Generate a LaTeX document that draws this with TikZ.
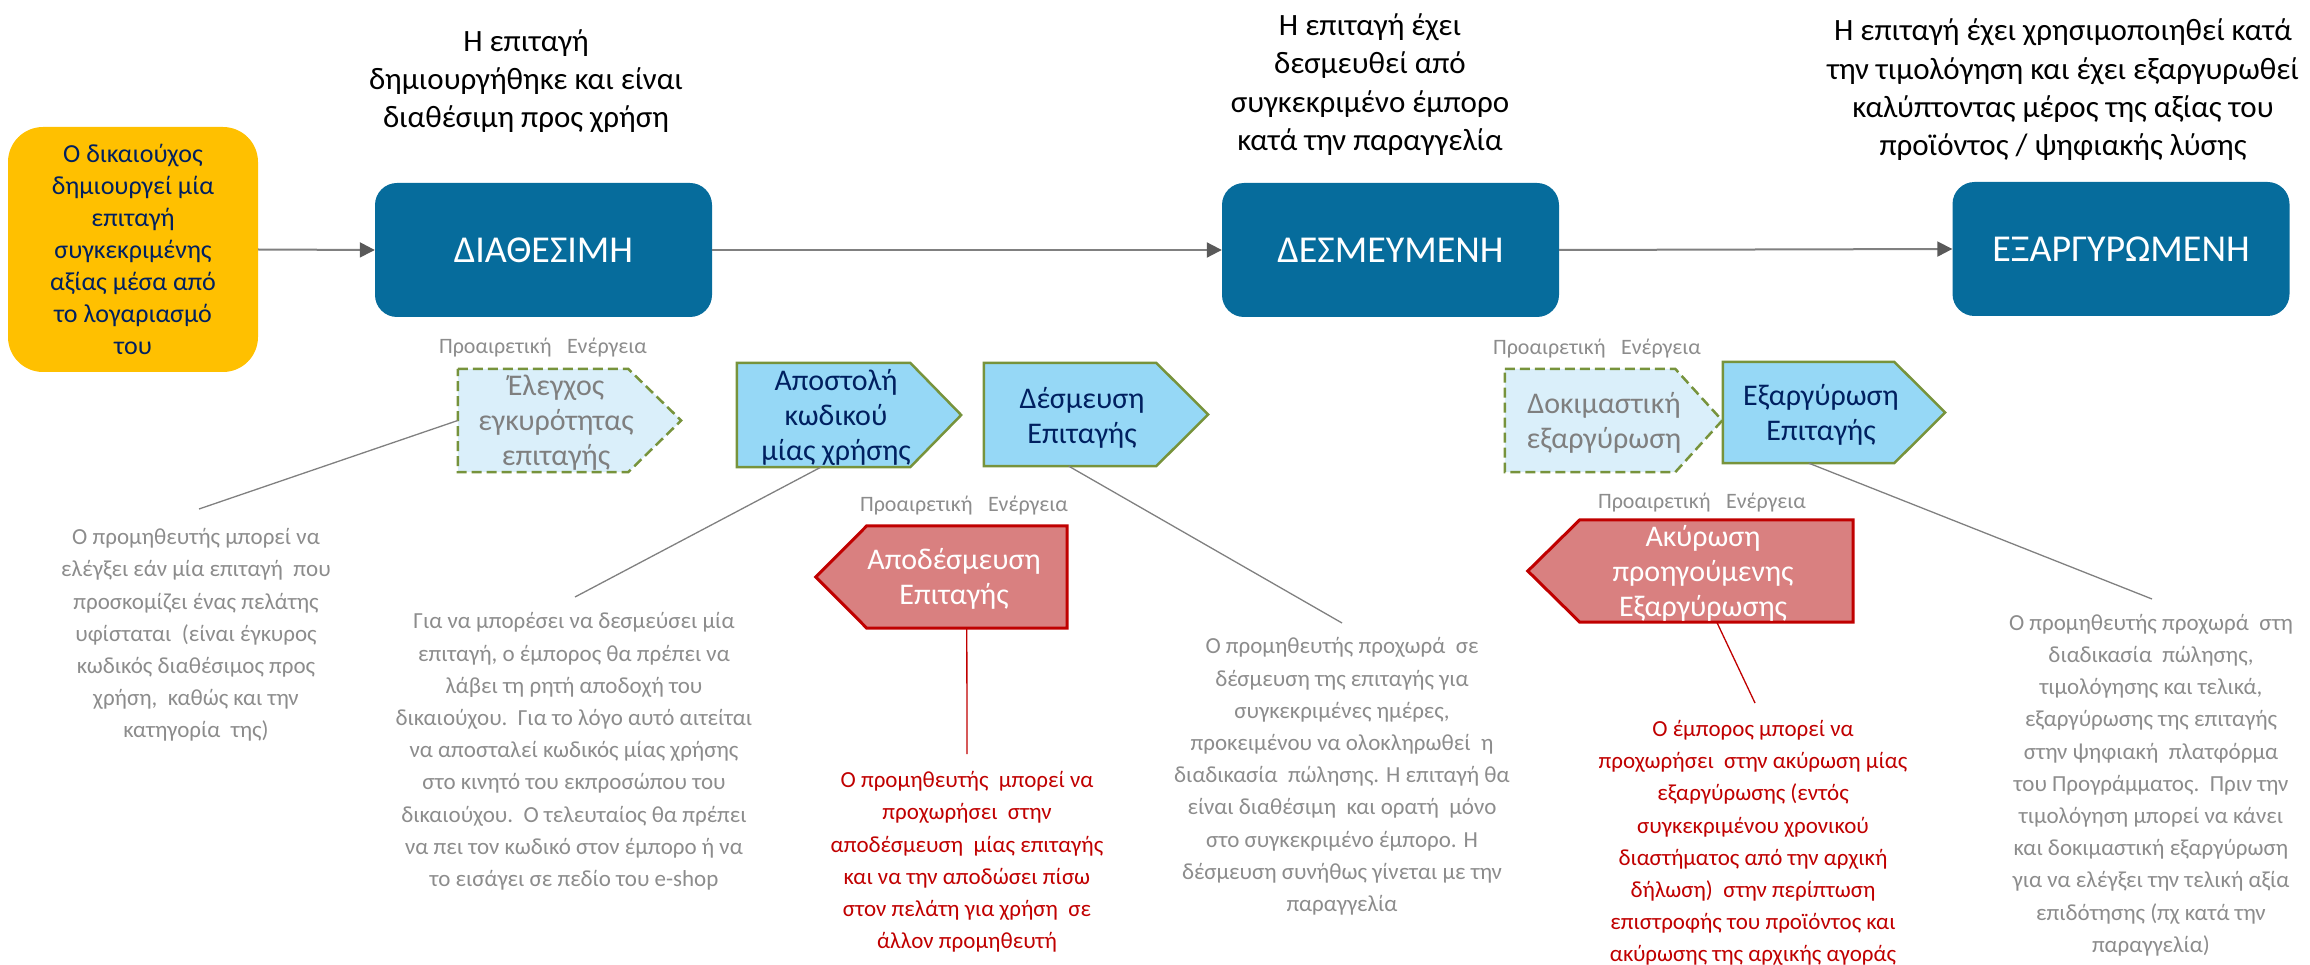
\documentclass[tikz,border=0pt]{standalone}
\usepackage{fontspec}
\setmainfont{Carlito}
\usetikzlibrary{arrows.meta,calc}
\definecolor{mainblue}{RGB}{6,108,156}
\definecolor{yell}{RGB}{255,192,0}
\definecolor{navy}{RGB}{0,32,96}
\definecolor{lightfill}{RGB}{218,239,250}
\definecolor{skyfill}{RGB}{150,216,246}
\definecolor{olive}{RGB}{119,147,60}
\definecolor{redfill}{RGB}{217,128,128}
\definecolor{darkred}{RGB}{192,0,0}
\definecolor{txtgray}{RGB}{140,140,140}
\definecolor{pgray}{RGB}{127,127,127}
\definecolor{arrgray}{RGB}{128,128,128}
\definecolor{headgray}{RGB}{89,89,89}
\begin{document}
\begin{tikzpicture}[x=1pt,y=-1pt,
  state/.style={fill=mainblue, rounded corners=22pt, minimum width=337pt, minimum height=134pt, text=white, font=\fontsize{38}{45}\selectfont, inner sep=0pt},
  startbox/.style={fill=yell, rounded corners=35pt, minimum width=250pt, minimum height=245pt, text=navy, align=center, font=\fontsize{26}{32}\selectfont, inner sep=0pt},
  head/.style={align=center, font=\fontsize{31}{38.3}\selectfont, text=black, inner sep=0pt},
  opt/.style={text=txtgray, font=\fontsize{22}{26}\selectfont, inner sep=0pt},
  desc/.style={align=center, text=txtgray, font=\fontsize{23}{32.2}\selectfont, inner sep=0pt},
  rdesc/.style={desc, text=darkred},
  flow/.style={draw=arrgray, line width=2pt, -{Triangle[length=15pt,width=15pt,color=headgray]}},
  lead/.style={draw=arrgray, line width=1.3pt},
  rlead/.style={draw=darkred, line width=1.3pt},
  pbox/.style={inner sep=0pt, draw=none},
  optshape/.style={fill=lightfill, draw=olive, line width=2.5pt, dash pattern=on 10pt off 5pt},
  actshape/.style={fill=skyfill, draw=olive, line width=2.5pt},
  undoshape/.style={fill=redfill, draw=darkred, line width=3pt},
  ptext/.style={align=center, font=\fontsize{30}{35}\selectfont, inner sep=0pt}
]
\useasboundingbox (0,0) rectangle (2310,965);

% headers
\node[head] (h1) at (526,81) {Η επιταγή\\δημιουργήθηκε και είναι\\διαθέσιμη προς χρήση};
\node[head] (h2) at (1370,84.5) {Η επιταγή έχει\\δεσμευθεί από\\συγκεκριμένο έμπορο\\κατά την παραγγελία};
\node[head] (h3) at (2063,90) {Η επιταγή έχει χρησιμοποιηθεί κατά\\την τιμολόγηση και έχει εξαργυρωθεί\\καλύπτοντας μέρος της αξίας του\\προϊόντος / ψηφιακής λύσης};

% main states
\node[startbox] (start) at (133,249.5) {Ο δικαιούχος\\δημιουργεί μία\\επιταγή\\συγκεκριμένης\\αξίας μέσα από\\το λογαριασμό\\του};
\node[state] (diath) at (543.5,250) {ΔΙΑΘΕΣΙΜΗ};
\node[state] (desm) at (1390.5,250) {ΔΕΣΜΕΥΜΕΝΗ};
\node[state] (exarg) at (2121,249) {ΕΞΑΡΓΥΡΩΜΕΝΗ};

\draw[flow] (start.east) -- (diath.west);
\draw[flow] (diath.east) -- (desm.west);
\draw[flow] (desm.east) -- (exarg.west);

% optional labels
\node[opt] (o1) at (543,348) {Προαιρετική\hspace{0.7em}Ενέργεια};
\node[opt] (o2) at (964,506) {Προαιρετική\hspace{0.7em}Ενέργεια};
\node[opt] (o3) at (1597,349) {Προαιρετική\hspace{0.7em}Ενέργεια};
\node[opt] (o4) at (1702,503) {Προαιρετική\hspace{0.7em}Ενέργεια};

% pentagon frames
\node[pbox, minimum width=223pt, minimum height=103pt] (elg) at (569.5,420.5) {};
\node[pbox, minimum width=224pt, minimum height=104pt] (apo) at (849,415) {};
\node[pbox, minimum width=224pt, minimum height=103pt] (des) at (1096,414.5) {};
\node[pbox, minimum width=217pt, minimum height=103pt] (dok) at (1613.5,420.5) {};
\node[pbox, minimum width=222pt, minimum height=101pt] (exa) at (1834,412.5) {};
\node[pbox, minimum width=251pt, minimum height=102pt] (apd) at (941.5,577) {};
\node[pbox, minimum width=325pt, minimum height=102pt] (aky) at (1690.5,571) {};

\draw[optshape] (elg.north west) -- ($(elg.north east)+(-53,0)$) -- (elg.east) -- ($(elg.south east)+(-53,0)$) -- (elg.south west) -- cycle;
\draw[actshape] (apo.north west) -- ($(apo.north east)+(-51,0)$) -- (apo.east) -- ($(apo.south east)+(-51,0)$) -- (apo.south west) -- cycle;
\draw[actshape] (des.north west) -- ($(des.north east)+(-52,0)$) -- (des.east) -- ($(des.south east)+(-52,0)$) -- (des.south west) -- cycle;
\draw[optshape] (dok.north west) -- ($(dok.north east)+(-47,0)$) -- (dok.east) -- ($(dok.south east)+(-47,0)$) -- (dok.south west) -- cycle;
\draw[actshape] (exa.north west) -- ($(exa.north east)+(-51,0)$) -- (exa.east) -- ($(exa.south east)+(-51,0)$) -- (exa.south west) -- cycle;
\draw[undoshape] (apd.west) -- ($(apd.north west)+(51,0)$) -- (apd.north east) -- (apd.south east) -- ($(apd.south west)+(51,0)$) -- cycle;
\draw[undoshape] (aky.west) -- ($(aky.north west)+(52,0)$) -- (aky.north east) -- (aky.south east) -- ($(aky.south west)+(52,0)$) -- cycle;

% pentagon texts
\node[ptext, text=pgray] (elgT) at (556,423) {Έλεγχος\\εγκυρότητας\\επιταγής};
\node[ptext, text=navy] (apoT) at (836,417.5) {Αποστολή\\κωδικού\\μίας χρήσης};
\node[ptext, text=navy] (desT) at (1082,417.5) {Δέσμευση\\Επιταγής};
\node[ptext, text=pgray] (dokT) at (1604,422.5) {Δοκιμαστική\\εξαργύρωση};
\node[ptext, text=navy] (exaT) at (1821,414.5) {Εξαργύρωση\\Επιταγής};
\node[ptext, text=white] (apdT) at (954,579) {Αποδέσμευση\\Επιταγής};
\node[ptext, text=white] (akyT) at (1703,573.5) {Ακύρωση\\προηγούμενης\\Εξαργύρωσης};

% descriptions
\node[desc] (dA) at (196,635) {Ο προμηθευτής μπορεί να\\ελέγξει εάν μία επιταγή\ \ που\\προσκομίζει ένας πελάτης\\υφίσταται\ \ (είναι έγκυρος\\κωδικός διαθέσιμος προς\\χρήση,\ \ καθώς και την\\κατηγορία\ \ της)};
\node[desc] (dB) at (574,751.5) {Για να μπορέσει να δεσμεύσει μία\\επιταγή, ο έμπορος θα πρέπει να\\λάβει τη ρητή αποδοχή του\\δικαιούχου.\ \ Για το λόγο αυτό αιτείται\\να αποσταλεί κωδικός μίας χρήσης\\στο κινητό του εκπροσώπου του\\δικαιούχου.\ \ Ο τελευταίος θα πρέπει\\να πει τον κωδικό στον έμπορο ή να\\το εισάγει σε πεδίο του e-shop};
\node[rdesc] (dC) at (967,862) {Ο προμηθευτής\ \ μπορεί να\\προχωρήσει\ \ στην\\αποδέσμευση\ \ μίας επιταγής\\και να την αποδώσει πίσω\\στον πελάτη για χρήση\ \ σε\\άλλον προμηθευτή};
\node[desc] (dD) at (1342,776.5) {Ο προμηθευτής προχωρά\ \ σε\\δέσμευση της επιταγής για\\συγκεκριμένες ημέρες,\\προκειμένου να ολοκληρωθεί\ \ η\\διαδικασία\ \ πώλησης. Η επιταγή θα\\είναι διαθέσιμη\ \ και ορατή\ \ μόνο\\στο συγκεκριμένο έμπορο. Η\\δέσμευση συνήθως γίνεται με την\\παραγγελία};
\node[rdesc] (dE) at (1753,843) {Ο έμπορος μπορεί να\\προχωρήσει\ \ στην ακύρωση μίας\\εξαργύρωσης (εντός\\συγκεκριμένου χρονικού\\διαστήματος από την αρχική\\δήλωση)\ \ στην περίπτωση\\επιστροφής του προϊόντος και\\ακύρωσης της αρχικής αγοράς};
\node[desc] (dF) at (2151,785) {Ο προμηθευτής προχωρά\ \ στη\\διαδικασία\ \ πώλησης,\\τιμολόγησης και τελικά,\\εξαργύρωσης της επιταγής\\στην ψηφιακή\ \ πλατφόρμα\\του Προγράμματος.\ \ Πριν την\\τιμολόγηση μπορεί να κάνει\\και δοκιμαστική εξαργύρωση\\για να ελέγξει την τελική αξία\\επιδότησης (πχ κατά την\\παραγγελία)};

% leader end points
\coordinate (eA) at (199,509);
\coordinate (eB) at (575,597);
\coordinate (eC) at (967,754);
\coordinate (eD) at (1342,623);
\coordinate (eE) at (1755,703);
\coordinate (eF) at (2152,599);

\draw[lead] (elg.west) -- (eA);
\draw[lead] ($(apo.south west)+(84,0)$) -- (eB);
\draw[rlead] ($(apd.south west)+(151,0)$) -- (eC);
\draw[lead] ($(des.south west)+(85,0)$) -- (eD);
\draw[rlead] ($(aky.south west)+(189,0)$) -- (eE);
\draw[lead] ($(exa.south west)+(86,0)$) -- (eF);
\end{tikzpicture}
\end{document}
